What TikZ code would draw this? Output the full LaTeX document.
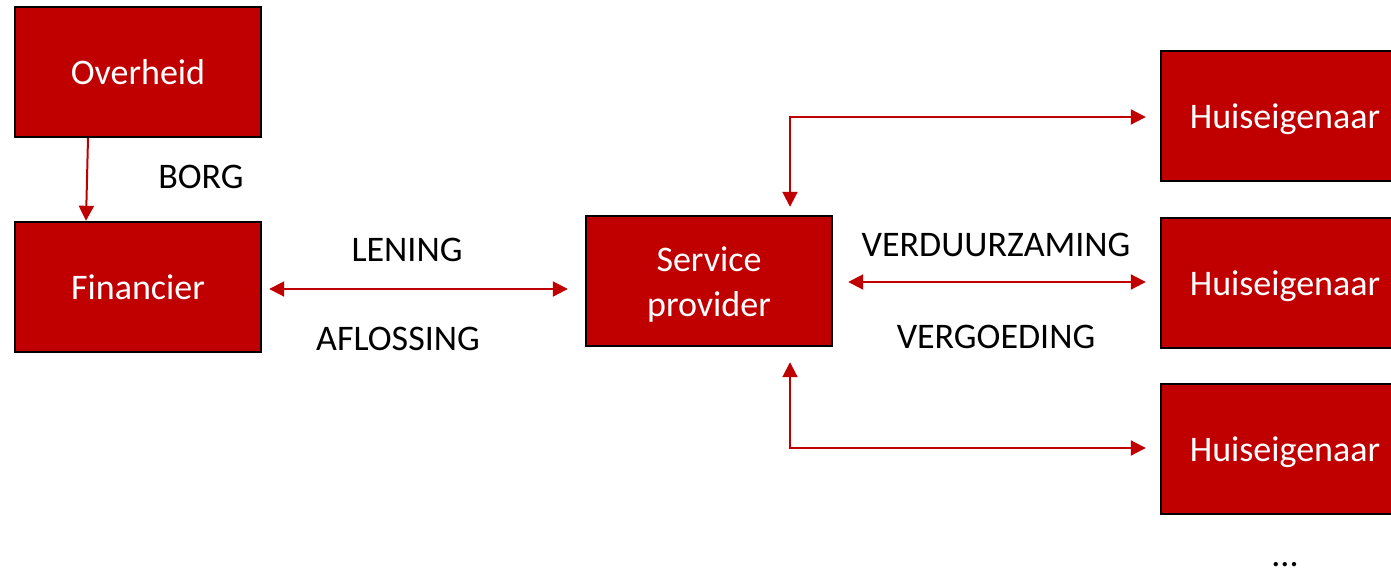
\documentclass[tikz,border=0pt]{standalone}
\usepackage{fontspec}
\setmainfont{Carlito}
\usetikzlibrary{arrows.meta,calc}
\definecolor{darkred}{HTML}{C00000}
\begin{document}
\begin{tikzpicture}[x=0.5pt, y=-0.5pt]
\tikzset{ >={Triangle[length=7.5pt,width=7.5pt]}, font=\fontsize{18}{22.5}\selectfont,
  box/.style={draw=black, line width=1.2pt, fill=darkred, text=white, align=center,
              minimum width=123pt, minimum height=65pt, inner sep=0pt,
              text height=16pt, text depth=3.4pt},
  link/.style={draw=darkred, line width=1pt},
  lbl/.style={inner sep=0pt, text=black} }

\useasboundingbox (0,0) rectangle (1391,573);

%\draw [lightgray, dashed](0,0) grid (1391,573);

\node [box] (ov) at (138,72)  {Overheid};
\node [box] (fin) at (138,287) {Financier};
\node [box, text height=39pt] (sp) at (709,281) {Service\\provider};
\node [box, minimum width=124pt] (h1) at (1285,116) {Huiseigenaar};
\node [box, minimum width=124pt] (h2) at (1285,283) {Huiseigenaar};
\node [box, minimum width=124pt] (h3) at (1285,449) {Huiseigenaar};

\draw [link, ->]  ([xshift=-25pt]ov.south) -- ([xshift=-26pt]fin.north);
\draw [link, <->] ($(fin.east)+(3.5pt,-1pt)$) -- ($(fin.east -| sp.west)+(-8.5pt,-1pt)$);
\draw [link, <->] ($(h1.west)+(-7pt,-0.5pt)$) -| ($(sp.north)+(40.5pt,4pt)$);
\draw [link, <->] ($(sp.east)+(7.5pt,-0.5pt)$) -- ($(sp.east -| h2.west)+(-7pt,-0.5pt)$);
\draw [link, <->] ($(h3.west)+(-7pt,0.5pt)$) -| ($(sp.south)+(40.5pt,-7.5pt)$);

\node [lbl] (borg) at (201,177) {BORG};
\node [lbl] (len) at (407,250) {LENING};
\node [lbl] (afl) at (398,339) {AFLOSSING};
\node [lbl] (ver) at (996,245) {VERDUURZAMING};
\node [lbl] (vgd) at (996,337) {VERGOEDING};
\node [lbl] (dots) at (1285,565) {...};

\end{tikzpicture}
\end{document}
